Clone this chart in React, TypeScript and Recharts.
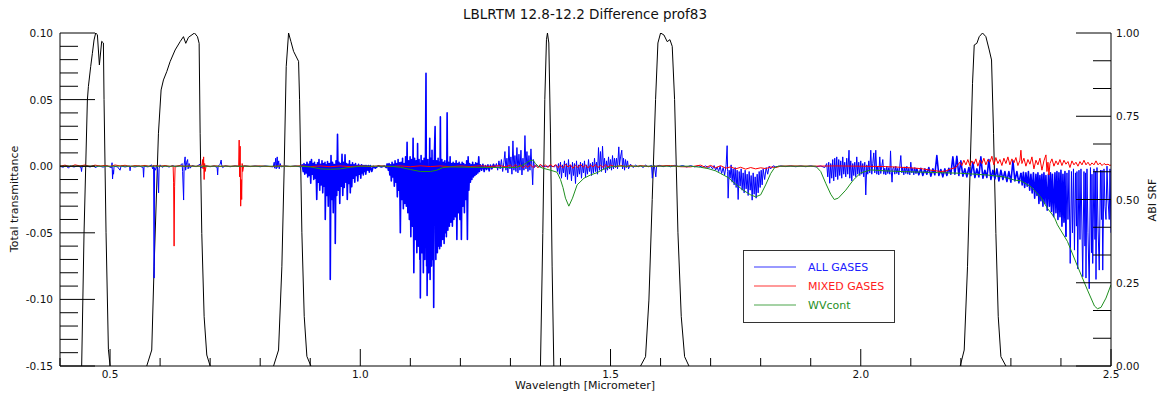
import React from "react";
import { LineChart, Line, XAxis, YAxis } from "recharts";

const W = 1162;
const H = 394;
const FONT = "'DejaVu Sans', sans-serif";
const PAD = 6;

type Pt = [number, number];

// --- ABI spectral response functions (right axis, 0..1) ---
const SRF_B1: Pt[] = [[0.4433, 0], [0.448, 0.398], [0.4547, 0.799], [0.4567, 0.839], [0.4613, 0.899], [0.4647, 0.939], [0.468, 0.979], [0.4713, 1.0], [0.4747, 0.995], [0.4787, 0.904], [0.4833, 0.975], [0.4867, 0.97], [0.488, 0.8], [0.492, 0.4], [0.4967, 0.05], [0.5, 0]];
const SRF_B2: Pt[] = [[0.5733, 0], [0.5833, 0.048], [0.588, 0.298], [0.5967, 0.699], [0.602, 0.829], [0.6067, 0.859], [0.6133, 0.884], [0.62, 0.914], [0.63, 0.949], [0.64, 0.974], [0.6467, 0.989], [0.6513, 0.969], [0.6567, 0.987], [0.6687, 1.0], [0.6747, 0.989], [0.678, 0.969], [0.68, 0.699], [0.6833, 0.398], [0.688, 0.148], [0.6933, 0.033], [0.7, 0]];
const SRF_B3: Pt[] = [[0.8267, 0], [0.8367, 0.048], [0.8433, 0.298], [0.848, 0.599], [0.852, 0.899], [0.8567, 1.0], [0.8613, 0.975], [0.8667, 0.945], [0.8733, 0.925], [0.8767, 0.915], [0.8787, 0.8], [0.8833, 0.4], [0.888, 0.149], [0.8933, 0.029], [0.9013, 0]];
const SRF_B4: Pt[] = [[1.36, 0], [1.3647, 0.398], [1.3687, 0.8], [1.372, 0.98], [1.374, 1.0], [1.3767, 0.97], [1.38, 0.7], [1.3833, 0.3], [1.3867, 0]];
const SRF_B5: Pt[] = [[1.56, 0], [1.57, 0.028], [1.5767, 0.198], [1.5833, 0.5], [1.59, 0.8], [1.5947, 0.97], [1.6, 1.0], [1.6067, 0.994], [1.6133, 0.974], [1.6187, 0.98], [1.6233, 0.96], [1.628, 0.8], [1.6347, 0.4], [1.6413, 0.149], [1.648, 0.028], [1.6567, 0]];
const SRF_B6: Pt[] = [[2.1987, 0], [2.2067, 0.048], [2.2133, 0.298], [2.2187, 0.599], [2.2233, 0.849], [2.2267, 0.964], [2.232, 0.969], [2.2367, 0.989], [2.2433, 1.0], [2.25, 0.989], [2.2567, 0.949], [2.2613, 0.919], [2.2653, 0.699], [2.27, 0.398], [2.2747, 0.148], [2.28, 0.028], [2.29, 0]];

// --- ALL GASES difference (left axis) ---
const ALL_VIS: Pt[] = [
  [0.400, 0.0000], [0.406, -0.0008], [0.412, 0.0004], [0.417, -0.0015], [0.420, 0.0002], [0.428, -0.0006], [0.436, 0.0003], [0.442, -0.0010], [0.443, -0.0040], [0.444, -0.0005],
  [0.452, 0.0002], [0.460, -0.0006], [0.468, 0.0004], [0.470, -0.0010], [0.478, 0.0002], [0.486, -0.0007], [0.494, 0.0003], [0.503, -0.0012], [0.504, 0.0026], [0.505, -0.0096],
  [0.506, -0.0030], [0.507, -0.0060], [0.508, 0.0000], [0.515, -0.0005], [0.520, -0.0030], [0.522, 0.0002], [0.530, -0.0006], [0.539, 0.0002], [0.540, -0.0034], [0.541, 0.0000],
  [0.550, -0.0006], [0.558, 0.0002], [0.566, -0.0010], [0.567, -0.0083], [0.568, 0.0000], [0.576, -0.0005], [0.583, 0.0010], [0.585, -0.0020], [0.587, 0.0005], [0.588, -0.0840],
  [0.589, -0.0010], [0.591, -0.0030], [0.593, 0.0008], [0.595, -0.0025], [0.597, -0.0200], [0.598, -0.0015], [0.600, 0.0010], [0.604, -0.0008], [0.610, 0.0003], [0.618, -0.0006],
  [0.625, 0.0004], [0.632, -0.0004], [0.640, 0.0005], [0.644, 0.0020], [0.645, -0.0040], [0.647, -0.0254], [0.648, 0.0010], [0.650, 0.0070], [0.651, -0.0030], [0.653, 0.0030],
  [0.655, 0.0050], [0.656, -0.0020], [0.658, 0.0020], [0.660, -0.0015], [0.664, 0.0005], [0.672, -0.0004], [0.680, 0.0015], [0.682, -0.0012], [0.690, 0.0003], [0.700, -0.0004],
  [0.708, 0.0002], [0.714, -0.0010], [0.715, -0.0066], [0.716, 0.0000], [0.720, 0.0015], [0.722, 0.0046], [0.723, 0.0010], [0.725, -0.0010], [0.730, 0.0003], [0.740, -0.0004],
  [0.750, 0.0002], [0.760, -0.0003], [0.770, 0.0002], [0.780, -0.0003], [0.790, 0.0002], [0.800, -0.0004], [0.810, 0.0002], [0.826, -0.0005], [0.828, 0.0030], [0.829, -0.0015],
  [0.831, 0.0060], [0.832, -0.0020], [0.834, 0.0070], [0.835, -0.0010], [0.837, 0.0040], [0.838, -0.0020], [0.840, 0.0020], [0.842, -0.0005], [0.850, 0.0002], [0.860, -0.0003],
  [0.870, 0.0002], [0.880, -0.0005],
];
const ALL_095: Pt[] = [
  [0.880, -0.0005], [0.884, 0.0010], [0.886, -0.0040], [0.8875, 0.0020], [0.889, -0.0060], [0.8905, 0.0010], [0.892, -0.0050], [0.8935, 0.0030], [0.895, -0.0080], [0.8965, 0.0015], [0.898, -0.0070],
  [0.8995, 0.0035], [0.901, -0.0128], [0.9025, 0.0050], [0.904, -0.0060], [0.9055, 0.0020], [0.907, -0.0100], [0.9085, 0.0030], [0.910, -0.0090], [0.9115, 0.0010], [0.913, -0.0250],
  [0.9145, 0.0025], [0.916, -0.0120], [0.9175, 0.0050], [0.919, -0.0180], [0.9205, 0.0015], [0.922, -0.0140], [0.9235, 0.0040], [0.925, -0.0200], [0.9265, 0.0020], [0.928, -0.0150],
  [0.9295, 0.0030], [0.930, -0.0400], [0.9315, 0.0010], [0.933, -0.0220], [0.9345, 0.0035], [0.936, -0.0300], [0.9375, 0.0020], [0.939, -0.0180], [0.9395, 0.0020], [0.940, -0.0850], [0.9415, 0.0080],
  [0.943, -0.0250], [0.9445, 0.0030], [0.946, -0.0350], [0.9475, 0.0015], [0.949, -0.0200], [0.9495, 0.0010], [0.950, -0.0580], [0.9515, 0.0040], [0.953, -0.0220], [0.9545, 0.0240], [0.956, -0.0180],
  [0.9575, 0.0030], [0.959, -0.0280], [0.9605, 0.0020], [0.962, -0.0150], [0.9635, 0.0090], [0.965, -0.0220], [0.9665, 0.0030], [0.968, -0.0160], [0.9695, 0.0085], [0.971, -0.0120],
  [0.9725, 0.0020], [0.974, -0.0250], [0.9755, 0.0015], [0.977, -0.0130], [0.9785, 0.0040], [0.980, -0.0200], [0.9815, 0.0010], [0.983, -0.0154], [0.9845, 0.0025], [0.986, -0.0090],
  [0.9875, 0.0010], [0.989, -0.0120], [0.9905, 0.0020], [0.992, -0.0070], [0.9935, 0.0005], [0.995, -0.0110], [0.9965, 0.0015], [0.998, -0.0060], [0.9995, 0.0005], [1.001, -0.0090],
  [1.0025, 0.0010], [1.004, -0.0050], [1.005, 0.0005], [1.006, -0.0066], [1.0075, 0.0005], [1.009, -0.0040], [1.010, 0.0005], [1.011, -0.0060], [1.013, 0.0005], [1.015, -0.0030], [1.0165, 0.0005], [1.018, -0.0045], [1.020, 0.0005],
  [1.023, -0.0040], [1.026, 0.0000], [1.030, -0.0015], [1.036, 0.0003], [1.042, -0.0006], [1.048, 0.0002], [1.052, -0.0010], [1.054, 0.0020],
];
const ALL_115: Pt[] = [
  [1.054, 0.0020], [1.056, -0.0030], [1.0575, 0.0020], [1.059, -0.0066], [1.0605, 0.0010], [1.062, -0.0110], [1.0635, 0.0030], [1.065, -0.0080], [1.0665, 0.0015], [1.068, -0.0150], [1.0695, 0.0040],
  [1.071, -0.0120], [1.0725, 0.0020], [1.074, -0.0230], [1.0755, 0.0050], [1.077, -0.0180], [1.0785, 0.0025], [1.080, -0.0500], [1.0815, 0.0030], [1.083, -0.0250], [1.0845, 0.0060],
  [1.086, -0.0320], [1.0875, 0.0020], [1.089, -0.0280], [1.0905, 0.0070], [1.092, -0.0300], [1.0935, 0.0180], [1.095, -0.0350], [1.0965, 0.0040], [1.098, -0.0400], [1.0995, 0.0070],
  [1.101, -0.0530], [1.1025, 0.0050], [1.104, -0.0450], [1.1055, 0.0210], [1.107, -0.0800], [1.1085, 0.0060], [1.110, -0.0550], [1.1115, 0.0040], [1.113, -0.0650], [1.1145, 0.0170],
  [1.116, -0.0600], [1.1175, 0.0050], [1.119, -0.0700], [1.1195, 0.0020], [1.120, -0.0990], [1.1215, 0.0080], [1.123, -0.0650], [1.1245, 0.0040], [1.126, -0.0800], [1.1275, 0.0060], [1.129, -0.0700],
  [1.1313, 0.0697], [1.1325, -0.0750], [1.133, 0.0030], [1.1335, -0.0970], [1.135, 0.0050], [1.1365, -0.0800], [1.1388, 0.0210], [1.1395, -0.0850], [1.141, 0.0060], [1.1425, -0.0750], [1.1433, 0.0120],
  [1.1445, -0.0700], [1.1456, 0.0040], [1.1467, -0.1060], [1.148, 0.0080], [1.1495, 0.0297], [1.151, -0.0700], [1.1525, 0.0040], [1.154, -0.0650], [1.1555, 0.0060], [1.157, -0.0600], [1.1578, 0.0030], [1.1585, -0.0620],
  [1.160, 0.0370], [1.1615, -0.0600], [1.163, 0.0050], [1.1645, -0.0550], [1.166, 0.0030], [1.1675, -0.0580], [1.169, 0.0040], [1.1705, -0.0500], [1.1712, 0.0020], [1.172, -0.0530], [1.1735, 0.0400],
  [1.175, -0.0480], [1.1765, 0.0030], [1.178, -0.0450], [1.1795, 0.0070], [1.181, -0.0420], [1.1825, 0.0020], [1.184, -0.0450], [1.1855, 0.0030], [1.187, -0.0400], [1.1885, 0.0020],
  [1.190, -0.0380], [1.1915, 0.0040], [1.193, -0.0550], [1.1945, 0.0020], [1.196, -0.0350], [1.1975, 0.0030], [1.199, -0.0400], [1.2005, 0.0015], [1.202, -0.0550], [1.2035, 0.0030],
  [1.205, -0.0300], [1.2065, 0.0020], [1.208, -0.0350], [1.2095, 0.0010], [1.211, -0.0250], [1.2125, 0.0040], [1.214, -0.0550], [1.2155, 0.0070], [1.217, -0.0180], [1.2185, 0.0020],
  [1.220, -0.0120], [1.2215, 0.0010], [1.223, -0.0100], [1.2245, 0.0030], [1.226, -0.0080], [1.2275, 0.0010], [1.229, -0.0070], [1.2305, 0.0025], [1.232, -0.0060], [1.2335, 0.0020],
  [1.235, -0.0050], [1.2367, 0.0070], [1.238, -0.0040], [1.240, 0.0010], [1.2425, -0.0030], [1.245, 0.0015], [1.2475, -0.0040], [1.250, 0.0005], [1.2525, -0.0025], [1.255, 0.0010],
  [1.2575, -0.0035], [1.260, 0.0008], [1.263, -0.0020], [1.266, 0.0015], [1.269, -0.0010],
];
const ALL_130: Pt[] = [
  [1.269, -0.0010], [1.272, 0.0020], [1.2745, -0.0030], [1.277, 0.0040], [1.2795, -0.0020], [1.282, 0.0050], [1.2845, -0.0040], [1.287, 0.0030], [1.289, 0.0110], [1.291, -0.0030], [1.293, 0.0060],
  [1.295, -0.0050], [1.297, 0.0150], [1.299, -0.0020], [1.301, 0.0070], [1.303, -0.0060], [1.305, 0.0190], [1.307, -0.0030], [1.309, 0.0080], [1.311, -0.0040], [1.313, 0.0140],
  [1.315, -0.0050], [1.317, 0.0090], [1.319, -0.0030], [1.321, 0.0120], [1.323, -0.0066], [1.325, 0.0060], [1.327, -0.0030], [1.329, 0.0230], [1.331, -0.0020], [1.333, 0.0110],
  [1.335, -0.0040], [1.337, 0.0080], [1.339, -0.0030], [1.341, 0.0130], [1.343, -0.0020], [1.3445, -0.0140], [1.346, 0.0050], [1.348, -0.0010], [1.352, 0.0010], [1.356, -0.0005],
  [1.362, 0.0003], [1.370, -0.0003], [1.380, 0.0002], [1.388, -0.0005], [1.392, 0.0010],
];
const ALL_145: Pt[] = [
  [1.392, 0.0010], [1.394, -0.0040], [1.396, 0.0020], [1.398, -0.0060], [1.400, 0.0030], [1.402, -0.0090], [1.404, 0.0010], [1.406, -0.0050], [1.408, 0.0040], [1.410, -0.0080], [1.412, 0.0020],
  [1.414, -0.0100], [1.416, 0.0050], [1.418, -0.0060], [1.420, 0.0010], [1.422, -0.0110], [1.424, 0.0030], [1.426, -0.0070], [1.428, 0.0020], [1.430, -0.0130], [1.432, 0.0040],
  [1.434, -0.0080], [1.436, 0.0010], [1.438, -0.0060], [1.440, 0.0030], [1.442, -0.0090], [1.444, 0.0020], [1.446, -0.0050], [1.448, 0.0040], [1.450, -0.0080], [1.452, 0.0010],
  [1.454, -0.0060], [1.456, 0.0050], [1.458, -0.0040], [1.460, 0.0020], [1.462, -0.0070], [1.464, 0.0030], [1.466, -0.0050], [1.468, 0.0060], [1.470, -0.0040], [1.472, 0.0030],
  [1.474, -0.0060], [1.476, 0.0140], [1.478, -0.0030], [1.480, 0.0110], [1.482, -0.0040], [1.484, 0.0150], [1.486, -0.0020], [1.488, 0.0060], [1.490, -0.0050], [1.492, 0.0040],
  [1.494, -0.0030], [1.496, 0.0070], [1.498, -0.0020], [1.500, 0.0050], [1.502, -0.0030], [1.504, 0.0080], [1.506, -0.0020], [1.508, 0.0060], [1.510, -0.0010], [1.512, 0.0060],
  [1.514, -0.0020], [1.5165, 0.0145], [1.518, 0.0010], [1.520, 0.0070], [1.5225, 0.0120], [1.524, -0.0020], [1.526, 0.0060], [1.528, -0.0030], [1.530, 0.0050], [1.532, -0.0010],
  [1.534, 0.0040], [1.536, -0.0020], [1.540, 0.0015], [1.545, -0.0010], [1.550, 0.0008], [1.555, -0.0005],
];
const ALL_170: Pt[] = [
  [1.555, -0.0005], [1.560, 0.0005], [1.565, -0.0010], [1.570, 0.0008], [1.575, -0.0005], [1.582, 0.0006], [1.5835, -0.0090], [1.585, -0.0010], [1.5875, 0.0005], [1.5905, -0.0080], [1.592, 0.0000],
  [1.598, 0.0006], [1.605, -0.0004], [1.612, 0.0005], [1.620, -0.0004], [1.628, 0.0006], [1.636, -0.0003], [1.644, 0.0005], [1.652, -0.0006], [1.660, 0.0004], [1.668, -0.0005],
  [1.676, 0.0003], [1.684, -0.0008], [1.690, 0.0002], [1.696, -0.0012], [1.700, 0.0000], [1.704, -0.0020], [1.707, 0.0005], [1.710, -0.0030], [1.713, -0.0005], [1.716, -0.0040],
  [1.719, 0.0000], [1.722, -0.0055], [1.725, -0.0010], [1.728, -0.0066], [1.731, 0.0010], [1.733, 0.0154], [1.734, -0.0040], [1.735, -0.0240], [1.737, -0.0030], [1.739, -0.0090],
  [1.741, 0.0010], [1.743, -0.0120], [1.745, -0.0020], [1.747, -0.0140], [1.749, -0.0010], [1.751, -0.0160], [1.753, -0.0030], [1.755, -0.0250], [1.757, -0.0040], [1.759, -0.0150],
  [1.761, -0.0020], [1.763, -0.0180], [1.765, -0.0050], [1.767, -0.0200], [1.769, -0.0030], [1.771, -0.0170], [1.773, -0.0060], [1.775, -0.0220], [1.777, -0.0040], [1.779, -0.0180],
  [1.781, -0.0070], [1.783, -0.0255], [1.785, -0.0050], [1.787, -0.0210], [1.789, -0.0080], [1.791, -0.0240], [1.793, -0.0060], [1.795, -0.0200], [1.797, -0.0040], [1.799, -0.0160],
  [1.801, -0.0030], [1.803, -0.0140], [1.805, -0.0020], [1.808, -0.0100], [1.811, -0.0010], [1.814, -0.0060], [1.817, 0.0000], [1.820, -0.0020], [1.825, 0.0003], [1.830, -0.0005],
  [1.840, 0.0002], [1.850, -0.0003], [1.860, 0.0002], [1.870, -0.0004], [1.880, 0.0002],
];
const ALL_200: Pt[] = [
  [1.880, 0.0002], [1.890, -0.0004], [1.900, 0.0003], [1.910, -0.0005], [1.920, 0.0002], [1.928, -0.0010], [1.932, 0.0020], [1.934, -0.0080], [1.936, 0.0030], [1.938, -0.0128],
  [1.940, 0.0020], [1.942, -0.0090], [1.944, 0.0050], [1.946, -0.0110], [1.948, 0.0060], [1.950, -0.0080], [1.952, 0.0070], [1.954, -0.0100], [1.956, 0.0050], [1.958, -0.0070],
  [1.960, 0.0040], [1.962, -0.0090], [1.964, 0.0070], [1.966, -0.0060], [1.968, 0.0030], [1.970, -0.0080], [1.972, 0.0060], [1.974, -0.0060], [1.9765, 0.0120], [1.978, -0.0090],
  [1.980, 0.0040], [1.982, -0.0110], [1.984, 0.0020], [1.986, -0.0070], [1.988, 0.0030], [1.990, -0.0080], [1.992, 0.0070], [1.994, -0.0060], [1.996, 0.0030], [1.998, -0.0070],
  [2.000, 0.0040], [2.002, -0.0060], [2.004, 0.0020], [2.006, -0.0080], [2.008, 0.0030], [2.010, -0.0216], [2.012, 0.0010], [2.014, -0.0060], [2.016, 0.0040], [2.018, -0.0050],
  [2.020, 0.0120], [2.022, -0.0060], [2.024, 0.0020], [2.026, 0.0100], [2.028, -0.0050], [2.030, 0.0120], [2.032, -0.0060], [2.034, 0.0000], [2.036, -0.0065], [2.038, 0.0070],
  [2.040, -0.0055], [2.042, 0.0000], [2.044, 0.0050], [2.046, -0.0060], [2.048, -0.0015], [2.050, -0.0065], [2.052, 0.0000], [2.054, -0.0055], [2.056, -0.0010], [2.058, -0.0060],
  [2.0595, 0.0115], [2.061, -0.0040], [2.0625, -0.0120], [2.064, -0.0020], [2.066, -0.0005], [2.068, -0.0060], [2.070, 0.0000], [2.072, -0.0055], [2.074, -0.0015], [2.076, -0.0065],
  [2.078, 0.0000], [2.080, 0.0080], [2.082, -0.0050], [2.084, -0.0010], [2.086, -0.0065], [2.088, -0.0005], [2.090, -0.0055], [2.092, 0.0000], [2.094, -0.0060], [2.096, -0.0015],
  [2.098, -0.0065], [2.100, 0.0030], [2.102, -0.0050], [2.104, -0.0015], [2.106, -0.0065], [2.108, -0.0010], [2.110, -0.0055],
];
const ALL_220: Pt[] = [
  [2.110, -0.0055], [2.112, -0.0020], [2.116, -0.0065], [2.120, -0.0015], [2.124, -0.0070], [2.128, -0.0020], [2.132, -0.0060], [2.136, -0.0010], [2.140, -0.0075], [2.144, -0.0020], [2.148, -0.0065],
  [2.152, 0.0080], [2.156, -0.0070], [2.160, -0.0025], [2.164, -0.0080], [2.168, -0.0020], [2.172, -0.0070], [2.176, -0.0015], [2.180, -0.0060], [2.184, 0.0070], [2.188, -0.0060],
  [2.192, 0.0075], [2.196, -0.0070], [2.200, 0.0040], [2.204, -0.0075], [2.208, -0.0020], [2.212, -0.0080], [2.216, -0.0010], [2.220, -0.0070], [2.224, 0.0030], [2.228, -0.0085],
  [2.232, -0.0020], [2.236, -0.0080], [2.240, 0.0070], [2.244, -0.0090], [2.248, -0.0030], [2.252, -0.0085], [2.256, 0.0050], [2.260, -0.0100], [2.264, -0.0030], [2.268, -0.0095],
  [2.272, -0.0020], [2.276, -0.0110], [2.280, -0.0030], [2.284, -0.0100], [2.288, -0.0040], [2.292, -0.0115], [2.296, -0.0040], [2.300, -0.0120], [2.304, 0.0040], [2.308, -0.0110],
  [2.312, -0.0040], [2.316, -0.0125], [2.320, -0.0050],
];
const ALL_235: Pt[] = [
  [2.320, -0.0050], [2.3225, -0.0140], [2.325, -0.0045], [2.3275, -0.0160], [2.330, -0.0050], [2.3325, -0.0150], [2.335, -0.0040], [2.3375, -0.0180], [2.340, -0.0060], [2.3425, -0.0200],
  [2.345, -0.0050], [2.3475, -0.0240], [2.350, -0.0060], [2.352, -0.0220], [2.354, -0.0050], [2.356, -0.0280], [2.358, -0.0070], [2.360, -0.0260], [2.362, -0.0060], [2.364, -0.0300],
  [2.366, -0.0050], [2.368, -0.0280], [2.370, -0.0070], [2.3725, -0.0330], [2.375, -0.0060], [2.377, -0.0300], [2.379, -0.0050], [2.381, -0.0340], [2.383, -0.0060], [2.3855, -0.0380],
  [2.388, -0.0050], [2.390, -0.0350], [2.392, -0.0040], [2.394, -0.0400], [2.396, -0.0050], [2.398, -0.0380], [2.400, -0.0030], [2.402, -0.0450], [2.404, -0.0060], [2.406, -0.0420],
  [2.408, -0.0040], [2.410, -0.0530],
];
const ALL_245: Pt[] = [
  [2.410, -0.0530], [2.412, -0.0050], [2.414, -0.0400], [2.416, -0.0030], [2.4185, -0.0730], [2.421, -0.0040], [2.423, -0.0500], [2.425, -0.0020], [2.427, -0.0630],
  [2.429, -0.0050], [2.431, -0.0450], [2.432, -0.0040], [2.4335, -0.0770], [2.436, -0.0030], [2.438, -0.0550], [2.440, -0.0020], [2.4435, -0.0830], [2.446, -0.0040], [2.448, -0.0600], [2.449, -0.0050], [2.450, -0.0840],
  [2.452, -0.0020], [2.454, -0.0500], [2.4565, -0.0920], [2.459, -0.0010], [2.461, -0.0650], [2.462, -0.0060], [2.4635, -0.0730], [2.466, -0.0020], [2.468, -0.0550], [2.469, -0.0040], [2.470, -0.0850], [2.472, -0.0010],
  [2.474, -0.0450], [2.4765, -0.0780], [2.479, -0.0030], [2.481, -0.0400], [2.482, -0.0030], [2.4835, -0.0780], [2.486, -0.0020], [2.488, -0.0300], [2.490, -0.0400], [2.492, 0.0000], [2.494, -0.0250],
  [2.4965, -0.0400], [2.498, -0.0020], [2.500, -0.0500],
];

// --- MIXED GASES difference ---
const MIXED_VIS: Pt[] = [
  [0.400, 0.0000], [0.410, 0.0008], [0.420, -0.0004], [0.430, 0.0010], [0.440, 0.0002], [0.450, 0.0009], [0.460, -0.0003], [0.470, 0.0008], [0.480, 0.0001], [0.490, 0.0006],
  [0.500, -0.0002], [0.510, 0.0009], [0.520, 0.0002], [0.530, 0.0007], [0.540, -0.0002], [0.550, 0.0005], [0.560, 0.0001], [0.570, 0.0006], [0.580, -0.0002], [0.590, 0.0004],
  [0.600, 0.0000], [0.610, 0.0005], [0.620, -0.0002], [0.626, 0.0003], [0.627, -0.0120], [0.628, -0.0600], [0.629, -0.0150], [0.630, 0.0000], [0.640, 0.0004], [0.650, -0.0002],
  [0.660, 0.0003], [0.670, -0.0001], [0.680, 0.0002], [0.684, 0.0010], [0.685, 0.0050], [0.686, -0.0020], [0.687, 0.0070], [0.688, -0.0100], [0.689, 0.0020], [0.690, -0.0040],
  [0.692, 0.0003], [0.700, -0.0002], [0.710, 0.0003], [0.720, -0.0002], [0.730, 0.0002], [0.740, -0.0001], [0.750, 0.0002], [0.757, 0.0000], [0.758, 0.0196], [0.759, -0.0080],
  [0.760, 0.0150], [0.761, -0.0300], [0.762, -0.0100], [0.763, -0.0250], [0.764, 0.0020], [0.765, -0.0040], [0.767, 0.0003], [0.780, -0.0001], [0.800, 0.0002], [0.820, -0.0003],
  [0.840, 0.0002], [0.860, -0.0002], [0.880, 0.0003], [0.900, -0.0003], [0.920, 0.0002], [0.940, -0.0004], [0.960, 0.0002], [0.980, -0.0003], [1.000, 0.0002], [1.020, -0.0002],
  [1.040, 0.0003], [1.060, -0.0003], [1.080, 0.0002], [1.100, -0.0004], [1.120, 0.0003], [1.140, -0.0003], [1.160, 0.0002], [1.180, -0.0004], [1.200, 0.0002], [1.220, -0.0003],
  [1.240, 0.0003], [1.260, -0.0002], [1.280, 0.0004], [1.290, -0.0005],
];
const MIXED_NIR: Pt[] = [
  [1.300, 0.0008], [1.305, -0.0010], [1.310, 0.0012], [1.315, -0.0006], [1.320, 0.0010], [1.325, -0.0012], [1.330, 0.0006], [1.335, -0.0008], [1.340, 0.0012], [1.345, -0.0010],
  [1.350, 0.0008], [1.355, -0.0012], [1.360, 0.0015], [1.365, -0.0008], [1.370, 0.0010], [1.375, -0.0010], [1.380, 0.0014], [1.385, -0.0006], [1.390, 0.0012], [1.395, -0.0010],
  [1.400, 0.0008], [1.405, -0.0012], [1.410, 0.0015], [1.415, -0.0006], [1.420, 0.0010], [1.425, -0.0015], [1.430, 0.0008], [1.435, -0.0010], [1.440, 0.0014], [1.445, -0.0008],
  [1.450, 0.0010], [1.455, -0.0012], [1.460, 0.0008], [1.465, -0.0006], [1.470, 0.0012], [1.475, -0.0010], [1.480, 0.0006], [1.485, -0.0008], [1.490, 0.0010], [1.495, -0.0006],
  [1.500, 0.0008], [1.510, -0.0005], [1.520, 0.0006], [1.530, -0.0004], [1.540, 0.0005], [1.550, -0.0003], [1.560, 0.0004], [1.580, -0.0003], [1.600, 0.0002], [1.620, 0.0005],
  [1.640, -0.0004], [1.660, -0.0005], [1.680, 0.0008], [1.690, -0.0010], [1.700, 0.0006], [1.710, -0.0012], [1.720, 0.0004], [1.730, -0.0015], [1.740, -0.0005], [1.750, -0.0020],
  [1.760, -0.0008], [1.770, -0.0022], [1.780, -0.0010], [1.790, -0.0020], [1.800, -0.0012], [1.810, -0.0018], [1.820, -0.0006], [1.830, -0.0010], [1.840, 0.0000], [1.860, 0.0002],
  [1.900, 0.0000], [1.950, 0.0002], [2.000, 0.0000], [2.050, -0.0003], [2.080, -0.0008], [2.100, -0.0012], [2.120, -0.0018], [2.140, -0.0030], [2.160, -0.0040], [2.170, -0.0036],
  [2.180, -0.0020],
];
const MIXED_SWIR: Pt[] = [
  [2.190, -0.0010], [2.194, 0.0010], [2.198, 0.0030], [2.202, 0.0005], [2.206, 0.0045], [2.210, 0.0010], [2.214, 0.0050], [2.218, 0.0005], [2.222, 0.0040], [2.226, 0.0015],
  [2.230, 0.0055], [2.234, 0.0000], [2.238, 0.0045], [2.242, 0.0020], [2.246, 0.0060], [2.250, 0.0010], [2.254, 0.0050], [2.258, 0.0030], [2.262, 0.0075], [2.266, 0.0010],
  [2.270, 0.0065], [2.274, 0.0020], [2.278, 0.0050], [2.282, 0.0005], [2.286, 0.0060], [2.290, 0.0020], [2.294, 0.0070], [2.298, 0.0010], [2.302, 0.0055], [2.306, 0.0025],
  [2.310, 0.0065], [2.314, 0.0005], [2.318, 0.0045], [2.320, 0.0120], [2.322, 0.0020], [2.326, 0.0060], [2.330, 0.0000], [2.334, 0.0050], [2.338, 0.0015], [2.342, 0.0070],
  [2.346, -0.0020], [2.350, 0.0045], [2.354, 0.0010], [2.358, 0.0060], [2.362, -0.0030], [2.366, 0.0040], [2.370, 0.0085], [2.372, -0.0040], [2.374, 0.0030], [2.376, -0.0066],
  [2.378, 0.0020], [2.382, 0.0055], [2.386, 0.0000], [2.390, 0.0040], [2.394, 0.0010], [2.398, 0.0050], [2.402, 0.0005], [2.406, 0.0045], [2.410, 0.0015], [2.414, 0.0035],
  [2.418, -0.0010], [2.422, 0.0040], [2.426, 0.0010], [2.430, 0.0030], [2.434, 0.0000], [2.438, 0.0035], [2.442, 0.0010], [2.446, 0.0045], [2.450, 0.0010], [2.454, 0.0030],
  [2.458, 0.0005], [2.462, 0.0025], [2.466, 0.0010], [2.470, 0.0040], [2.474, 0.0010], [2.478, 0.0025], [2.482, 0.0005], [2.486, 0.0020], [2.490, 0.0010], [2.494, 0.0015],
  [2.498, 0.0005], [2.500, 0.0010],
];

// --- Water vapour continuum difference ---
const WV_CONT: Pt[] = [
  [0.400, 0.0000], [0.880, 0.0000], [0.900, -0.0005], [0.920, -0.0020], [0.940, -0.0023], [0.960, -0.0020], [0.980, -0.0008], [1.000, 0.0000], [1.060, 0.0000], [1.080, -0.0008],
  [1.100, -0.0025], [1.120, -0.0040], [1.140, -0.0040], [1.153, -0.0030], [1.165, -0.0010], [1.180, -0.0005], [1.220, -0.0008], [1.280, -0.0010], [1.310, -0.0010], [1.320, 0.0000],
  [1.330, 0.0020], [1.338, 0.0040], [1.345, 0.0046], [1.350, 0.0020], [1.355, 0.0000], [1.365, -0.0015], [1.380, -0.0030], [1.393, -0.0045], [1.400, -0.0100], [1.405, -0.0160],
  [1.410, -0.0240], [1.4167, -0.0300], [1.424, -0.0240], [1.4333, -0.0140], [1.447, -0.0090], [1.460, -0.0066], [1.4733, -0.0048], [1.483, -0.0028], [1.495, -0.0010], [1.510, 0.0000],
  [1.660, 0.0000], [1.680, -0.0008], [1.695, -0.0018], [1.710, -0.0035], [1.720, -0.0055], [1.735, -0.0085], [1.750, -0.0135], [1.765, -0.0180], [1.780, -0.0215], [1.790, -0.0230],
  [1.800, -0.0215], [1.810, -0.0140], [1.820, -0.0055], [1.828, -0.0010], [1.835, 0.0000], [1.910, 0.0000], [1.920, -0.0040], [1.930, -0.0128], [1.940, -0.0210], [1.947, -0.0250],
  [1.955, -0.0240], [1.970, -0.0180], [1.985, -0.0104], [2.000, -0.0050], [2.020, -0.0028], [2.050, -0.0035], [2.087, -0.0041], [2.153, -0.0048], [2.200, -0.0053], [2.253, -0.0066],
  [2.286, -0.0080], [2.307, -0.0104], [2.320, -0.0110], [2.340, -0.0154], [2.360, -0.0235], [2.373, -0.0316], [2.387, -0.0385], [2.393, -0.0440], [2.413, -0.0565], [2.433, -0.0750],
  [2.453, -0.0930], [2.467, -0.1050], [2.473, -0.1070], [2.480, -0.1060], [2.490, -0.0990], [2.500, -0.0890],
];

const SRF_BANDS = [SRF_B1, SRF_B2, SRF_B3, SRF_B4, SRF_B5, SRF_B6];
// the spectrum is drawn piece by piece; the dense line-forest pieces get a heavier pen
const ALL_PIECES: { data: Pt[]; dense: boolean }[] = [
  { data: ALL_VIS, dense: false },
  { data: ALL_095, dense: true },
  { data: ALL_115, dense: true },
  { data: ALL_130, dense: false },
  { data: ALL_145, dense: false },
  { data: ALL_170, dense: false },
  { data: ALL_200, dense: false },
  { data: ALL_220, dense: true },
  { data: ALL_235, dense: true },
  { data: ALL_245, dense: false },
];
const MIXED_GASES = [...MIXED_VIS, ...MIXED_NIR, ...MIXED_SWIR];

const X_TICKS = Array.from({ length: 22 }, (_, i) => +(0.4 + i * 0.1).toFixed(1));
const LEFT_TICKS = Array.from({ length: 26 }, (_, i) => +(-0.15 + i * 0.01).toFixed(2));
const RIGHT_TICKS = Array.from({ length: 13 }, (_, i) => i / 12);

const BLUE = "#0000ff";
const RED = "#ff0000";
const GREEN = "#1f8f1f";

const LEGEND = [
  { name: "ALL GASES", color: BLUE, text: "#2020ff" },
  { name: "MIXED GASES", color: RED, text: "#ff2020" },
  { name: "WVcont", color: GREEN, text: "#1f8f1f" },
];

const toPts = (arr: Pt[]) => arr.map(([x, y]) => ({ x, y }));
const onStep = (v: number, step: number) => Math.abs(v / step - Math.round(v / step)) < 1e-6;

const tickText = { fontFamily: FONT, fontSize: 10.5, fill: "#111" };

function LeftTick(props: any) {
  const { x, y, payload } = props;
  const v = payload.value as number;
  const major = onStep(v, 0.05);
  const ax = x + PAD;
  return (
    <g>
      <line x1={ax} x2={ax + (major ? 35 : 18)} y1={y} y2={y} stroke="#000" />
      {major && (
        <text x={ax - 7} y={y + 4} textAnchor="end" {...tickText}>
          {v.toFixed(2)}
        </text>
      )}
    </g>
  );
}

function RightTick(props: any) {
  const { x, y, payload } = props;
  const v = payload.value as number;
  const major = onStep(v, 0.25);
  const ax = x - PAD;
  return (
    <g>
      <line x1={ax} x2={ax - (major ? 35 : 18)} y1={y} y2={y} stroke="#000" />
      {major && (
        <text x={ax + 5} y={y + 4} textAnchor="start" {...tickText}>
          {v.toFixed(2)}
        </text>
      )}
    </g>
  );
}

function BottomTick(props: any) {
  const { x, y, payload } = props;
  const v = payload.value as number;
  const major = onStep(v, 0.5);
  const ay = y - PAD;
  return (
    <g>
      <line x1={x} x2={x} y1={ay} y2={ay - (major ? 17 : 8)} stroke="#000" />
      {major && (
        <text x={x} y={ay + 12} textAnchor="middle" {...tickText}>
          {v.toFixed(1)}
        </text>
      )}
    </g>
  );
}

export default function App() {
  return (
    <div style={{ position: "absolute", left: 0, top: 0, width: W, height: H, background: "#fff" }}>
      <LineChart width={W} height={H} margin={{ top: 33, right: 6, bottom: 8, left: 10 }}>
        <XAxis
          type="number"
          dataKey="x"
          domain={[0.4, 2.5]}
          ticks={X_TICKS}
          interval={0}
          allowDataOverflow
          height={20}
          tickSize={0}
          tickMargin={PAD}
          tickLine={false}
          axisLine={{ stroke: "#000" }}
          tick={(p: any) => <BottomTick {...p} />}
        />
        <YAxis
          yAxisId="l"
          orientation="left"
          type="number"
          domain={[-0.15, 0.1]}
          ticks={LEFT_TICKS}
          interval={0}
          allowDataOverflow
          width={50}
          tickSize={0}
          tickMargin={PAD}
          tickLine={false}
          axisLine={{ stroke: "#000" }}
          tick={(p: any) => <LeftTick {...p} />}
        />
        <YAxis
          yAxisId="r"
          orientation="right"
          type="number"
          domain={[0, 1]}
          ticks={RIGHT_TICKS}
          interval={0}
          allowDataOverflow
          width={45}
          tickSize={0}
          tickMargin={PAD}
          tickLine={false}
          axisLine={{ stroke: "#000" }}
          tick={(p: any) => <RightTick {...p} />}
        />
        {SRF_BANDS.map((band, i) => (
          <Line
            key={"srf" + i}
            yAxisId="r"
            data={toPts(band)}
            dataKey="y"
            type="linear"
            stroke="#000"
            strokeWidth={1}
            dot={false}
            isAnimationActive={false}
          />
        ))}
        {ALL_PIECES.map((piece, i) => (
          <Line
            key={"all" + i}
            yAxisId="l"
            data={toPts(piece.data)}
            dataKey="y"
            type="linear"
            stroke={BLUE}
            strokeWidth={piece.dense ? 1.6 : 1}
            strokeLinejoin="round"
            dot={false}
            isAnimationActive={false}
          />
        ))}
        <Line
          yAxisId="l"
          data={toPts(MIXED_GASES)}
          dataKey="y"
          type="linear"
          stroke={RED}
          strokeWidth={1}
          dot={false}
          isAnimationActive={false}
        />
        <Line
          yAxisId="l"
          data={toPts(WV_CONT)}
          dataKey="y"
          type="linear"
          stroke={GREEN}
          strokeWidth={1}
          dot={false}
          isAnimationActive={false}
        />
      </LineChart>

      <svg
        width={W}
        height={H}
        style={{ position: "absolute", left: 0, top: 0, pointerEvents: "none" }}
        fontFamily={FONT}
      >
        <text x={585} y={19} textAnchor="middle" fontSize={13.5} fill="#111">
          LBLRTM 12.8-12.2 Difference prof83
        </text>
        <text x={585} y={389} textAnchor="middle" fontSize={11} fill="#111">
          Wavelength [Micrometer]
        </text>
        <text x={18} y={199} textAnchor="middle" fontSize={11} fill="#111" transform="rotate(-90 18 199)">
          Total transmittance
        </text>
        <text x={1156} y={200} textAnchor="middle" fontSize={11} fill="#111" transform="rotate(-90 1156 200)">
          ABI SRF
        </text>
        <rect x={743.5} y={250.5} width={151} height={72} fill="none" stroke="#333" />
        {LEGEND.map((s, i) => (
          <g key={s.name}>
            <line x1={754} x2={796} y1={267 + i * 19} y2={267 + i * 19} stroke={s.color} strokeOpacity={0.8} />
            <text x={808} y={271 + i * 19} fontSize={11} fill={s.text}>
              {s.name}
            </text>
          </g>
        ))}
      </svg>
    </div>
  );
}
